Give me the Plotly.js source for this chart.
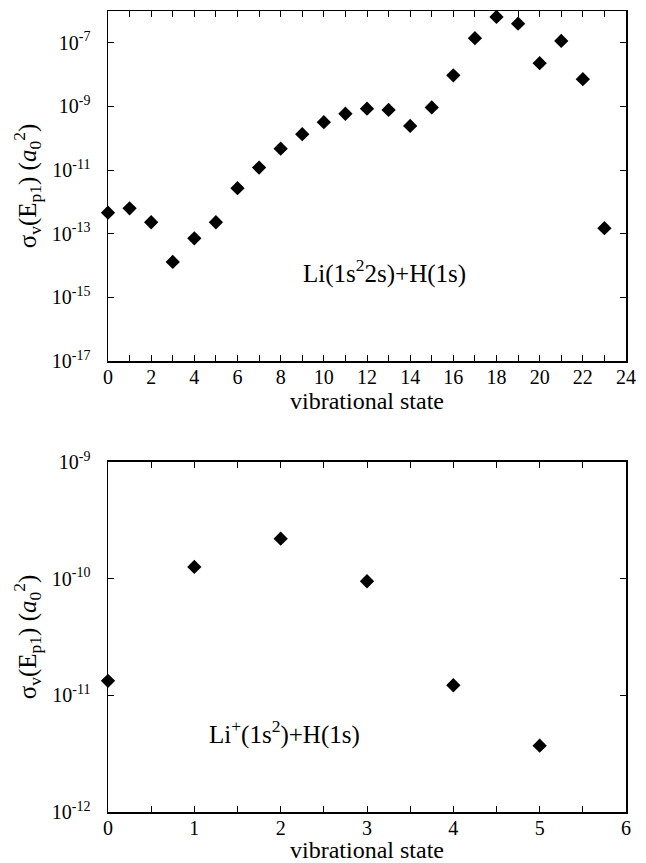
<!DOCTYPE html>
<html>
<head>
<meta charset="utf-8">
<script src="https://cdn.plot.ly/plotly-3.0.1.min.js"></script>
<style>html,body{margin:0;padding:0;background:#fff;}#chart{width:646px;height:863px;}</style>
</head>
<body>
<div id="chart"></div>
<script>
// Panel (a): Li(1s^2 2s)+H(1s)
const statesA = [0,1,2,3,4,5,6,7,8,9,10,11,12,13,14,15,16,17,18,19,20,21,22,23];
const sigmaA = [4.6e-13,6.3e-13,2.3e-13,1.3e-14,7.2e-14,2.3e-13,2.7e-12,1.2e-11,4.7e-11,1.35e-10,3.2e-10,5.9e-10,8.5e-10,7.8e-10,2.45e-10,9.3e-10,9.5e-9,1.4e-7,6.5e-7,4.0e-7,2.3e-8,1.15e-7,7.2e-9,1.5e-13];
// Panel (b): Li+(1s^2)+H(1s)
const statesB = [0,1,2,3,4,5];
const sigmaB = [1.33e-11,1.26e-10,2.2e-10,9.5e-11,1.22e-11,3.7e-12];

const xTickValsA = [0,1,2,3,4,5,6,7,8,9,10,11,12,13,14,15,16,17,18,19,20,21,22,23,24];
const xTickTextA = ["0","","2","","4","","6","","8","","10","","12","","14","","16","","18","","20","","22","","24"];
const yTickValsA = [1e-17,1e-15,1e-13,1e-11,1e-9,1e-7];
const yTickTextA = ["10<sup>-17</sup>","10<sup>-15</sup>","10<sup>-13</sup>","10<sup>-11</sup>","10<sup>-9</sup>","10<sup>-7</sup>"];
const xTickValsB = [0,0.5,1,1.5,2,2.5,3,3.5,4,4.5,5,5.5,6];
const xTickTextB = ["0","","1","","2","","3","","4","","5","","6"];
const yTickValsB = [1e-12,1e-11,1e-10,1e-9];
const yTickTextB = ["10<sup>-12</sup>","10<sup>-11</sup>","10<sup>-10</sup>","10<sup>-9</sup>"];

const labelA = "Li(1s<sup>2</sup>2s)+H(1s)";
const labelB = "Li<sup>+</sup>(1s<sup>2</sup>)+H(1s)";
const xTitle = "vibrational state";
const yTitle = "σ<sub>v</sub>(E<sub>p1</sub>) (<i>a</i><sub>0</sub><sup>2</sup>)";

const FONT = "Liberation Serif, Times New Roman, serif";
const marker = {symbol: "diamond", size: 11, color: "#000"};

const traces = [
  {x: statesA, y: sigmaA, type: "scatter", mode: "markers", marker: marker, xaxis: "x", yaxis: "y", cliponaxis: false, hoverinfo: "skip"},
  {x: statesB, y: sigmaB, type: "scatter", mode: "markers", marker: marker, xaxis: "x2", yaxis: "y2", cliponaxis: false, hoverinfo: "skip"}
];

const axCommon = {
  showline: true, linecolor: "#000", linewidth: 1.5, mirror: "ticks",
  ticks: "inside", ticklen: 6, tickwidth: 1, tickcolor: "#000",
  showgrid: false, zeroline: false,
  tickfont: {family: FONT, size: 20, color: "#000"}
};

const layout = {
  width: 646, height: 863,
  margin: {l: 108, r: 20, t: 11, b: 51},
  paper_bgcolor: "#fff", plot_bgcolor: "#fff",
  showlegend: false,
  font: {family: FONT, color: "#000"},
  xaxis: Object.assign({}, axCommon, {
    domain: [0, 1], anchor: "y", range: [0, 24],
    tickmode: "array", tickvals: xTickValsA, ticktext: xTickTextA,
    ticklabelstandoff: -3,
    title: {text: xTitle, font: {family: FONT, size: 24, color: "#000"}, standoff: 3}
  }),
  yaxis: Object.assign({}, axCommon, {
    domain: [0.563, 1], anchor: "x", type: "log", range: [-17, -6],
    tickmode: "array", tickvals: yTickValsA, ticktext: yTickTextA,
    ticklabelstandoff: 12,
    title: {text: yTitle, font: {family: FONT, size: 25, color: "#000"}, standoff: 8}
  }),
  xaxis2: Object.assign({}, axCommon, {
    domain: [0, 1], anchor: "y2", range: [0, 6],
    tickmode: "array", tickvals: xTickValsB, ticktext: xTickTextB,
    ticklabelstandoff: -3,
    title: {text: xTitle, font: {family: FONT, size: 24, color: "#000"}, standoff: 3}
  }),
  yaxis2: Object.assign({}, axCommon, {
    domain: [0, 0.437], anchor: "x2", type: "log", range: [-12, -9],
    tickmode: "array", tickvals: yTickValsB, ticktext: yTickTextB,
    ticklabelstandoff: 12,
    title: {text: yTitle, font: {family: FONT, size: 25, color: "#000"}, standoff: 8}
  }),
  annotations: [
    {text: labelA, xref: "x", yref: "y", x: 12.8, y: -14.2, showarrow: false,
     font: {family: FONT, size: 25, color: "#000"}},
    {text: labelB, xref: "x2", yref: "y2", x: 2.04, y: -11.32, showarrow: false,
     font: {family: FONT, size: 25, color: "#000"}}
  ]
};

Plotly.newPlot("chart", traces, layout, {staticPlot: true, displayModeBar: false});
</script>
</body>
</html>
